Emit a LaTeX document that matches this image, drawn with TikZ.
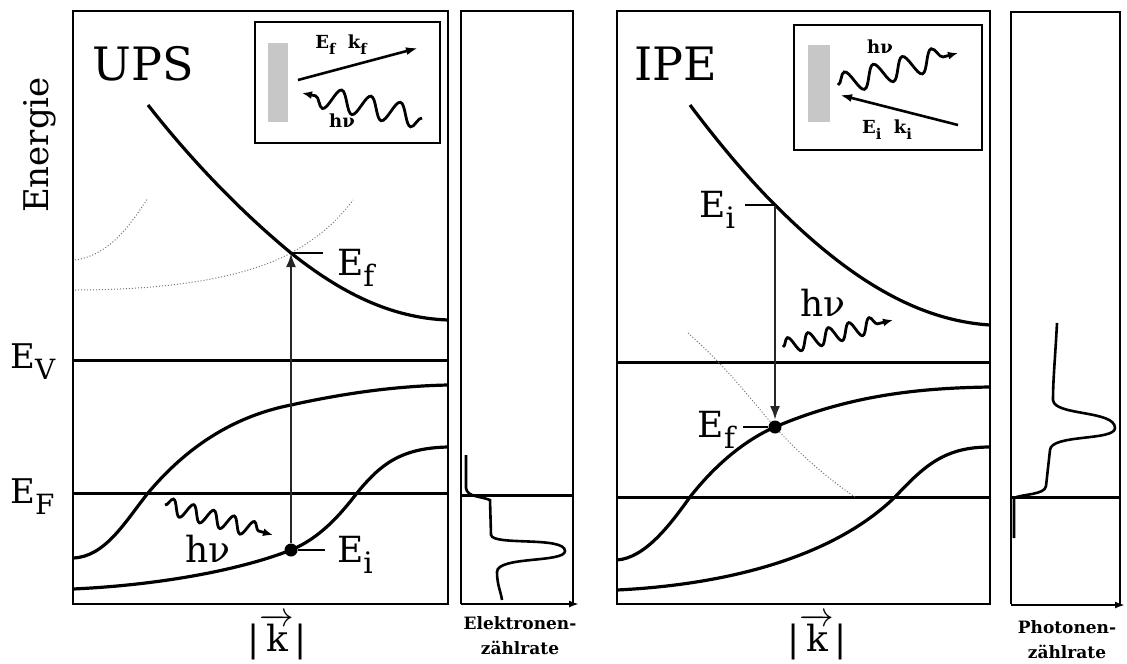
\documentclass[tikz,border=0pt]{standalone}
\usepackage{fontspec}
\setmainfont{DejaVu Serif}
\usepackage{graphicx}
\usetikzlibrary{arrows.meta,decorations.pathmorphing,positioning,calc}
\newcommand\lowidx[1]{\raisebox{-0.33em}{\scalebox{0.82}{#1}}}

\begin{document}
\begin{tikzpicture}[x=0.5pt,y=-0.5pt,
      frame/.style={line width=1pt},
      band/.style={line width=1.6pt},
      level/.style={line width=1.5pt},
      ghost/.style={line width=0.5pt, black!55, densely dotted},
      spec/.style={line width=1.3pt},
      transition/.style={line width=1.3pt, black!85, -{Latex[length=7pt,width=5pt]}},
      tick/.style={line width=0.6pt},
      axisarrow/.style={line width=1pt, -{Latex[length=5pt,width=3.5pt]}},
      photon/.style={line width=1.4pt, decorate, decoration={snake, amplitude=4pt, segment length=10.5pt, post length=6pt}, -{Latex[length=5pt,width=4pt]}},
      bigphoton/.style={photon, decoration={snake, amplitude=5.5pt, segment length=15pt, post length=6pt}},
      inarrow/.style={line width=1.3pt, -{Latex[length=6pt,width=4pt]}},
      state/.style={circle, fill=black, inner sep=0pt, minimum size=6.5pt},
      lab/.style={font=\fontsize{18}{20}\selectfont, inner sep=0pt},
      sidelab/.style={font=\fontsize{17}{20}\selectfont, inner sep=0pt},
      title/.style={font=\fontsize{23}{26}\selectfont, inner sep=0pt},
      inlab/.style={font=\bfseries\fontsize{9}{11}\selectfont, inner sep=0pt},
      countlab/.style={font=\bfseries\fontsize{8.5}{12.5}\selectfont, align=center, inner sep=0pt},
      shade/.style={fill=black!22, draw=none}
    ]
    \useasboundingbox (0,0) rectangle (1127,663);

    % UPS panel
    \draw[frame] (73,11) rectangle (448,604);
    \node[title] (upstitle) at (143,64) {UPS};
    \node[sidelab, rotate=90] (energy) at (40,145) {Energie};
    \node[sidelab, anchor=base west] (ev) at (10,368) {E\lowidx{V}};
    \node[sidelab, anchor=base west] (ef) at (10,503) {E\lowidx{F}};
    \draw[level] (73,360) -- (448,360);
    \draw[level] (73,493) -- (448,493);

    \draw[ghost] (75,260) .. controls (110,255) and (130,225) .. (148,198);
    \draw[ghost] (75,290) .. controls (180,290) and (250,275) .. (291,253) .. controls (320,237) and (340,218) .. (353,200);
    \draw[band] (148,105) .. controls (195,165) and (245,215) .. (291,253) .. controls (340,292) and (390,318) .. (448,320);
    \draw[band] (73,558) .. controls (105,557) and (125,522) .. (148,493) .. controls (180,455) and (225,418) .. (291,405) .. controls (350,392) and (400,386) .. (448,385);
    \draw[band] (73,589) .. controls (160,585) and (240,570) .. (291,550) .. controls (320,538) and (340,515) .. (357,493) .. controls (380,465) and (400,448) .. (448,447);

    \coordinate (upsEf) at (291,253);
    \node[state] (upsEi) at (291,550) {};
    \draw[transition] (upsEi) -- (upsEf);
    \node[lab, anchor=base west, outer xsep=7pt] (upsEflab) at (323,275) {E\lowidx{f}};
    \node[lab, anchor=base west, outer xsep=6pt] (upsEilab) at (325,562) {E\lowidx{i}};
    \draw[tick] (upsEf) -- (upsEf -| upsEflab.west);
    \draw[tick] (upsEi) -- (upsEi -| upsEilab.west);

    \coordinate (upsWaveA) at (165,505);
    \coordinate (upsWaveB) at (273,535);
    \draw[photon] (upsWaveA) -- (upsWaveB);
    \node[lab] (upshv) at (208,549) {hν};

    % UPS inset
    \draw[frame] (255,22) rectangle (440,143);
    \fill[shade] (268,43) rectangle (288,122);
    \coordinate (upsInA) at (298,80);
    \coordinate (upsInB) at (418,48);
    \draw[inarrow] (upsInA) -- (upsInB);
    \node[inlab] (upsInlab) at (341,45) {E\lowidx{f}\ \ k\lowidx{f}};
    \coordinate (upsInWaveA) at (422,118);
    \coordinate (upsInWaveB) at (302,93);
    \draw[bigphoton] (upsInWaveA) -- (upsInWaveB);
    \node[inlab] (upsInhv) at (342,121) {hν};

    % electron counting rate
    \draw[frame] (461,604) -- (461,11) -- (573,11) -- (573,604);
    \draw[axisarrow] (461,604) -- (579,604);
    \draw[level] (461,495) -- (573,495);
    \draw[spec] (466,455) -- (466,488) .. controls (467,497) and (480,496) .. (490,500) -- (491,535) .. controls (493,546) and (565,536) .. (565,551) .. controls (565,563) and (497,556) .. (497,572) .. controls (497,585) and (501,592) .. (502,600);
    \node[countlab] (elcount) at (520,636) {Elektronen-\\zählrate};
    \node[lab] (upsk) at (277,637) {|$\overrightarrow{\mbox{k}}$|};

    % IPE panel
    \draw[frame] (617,11) rectangle (990,604);
    \node[title] (ipetitle) at (676,64) {IPE};
    \draw[level] (617,362) -- (990,362);
    \draw[level] (617,497) -- (990,497);

    \draw[ghost] (688,333) .. controls (730,370) and (755,405) .. (775,427) .. controls (800,455) and (830,480) .. (855,497);
    \draw[band] (690,105) .. controls (720,145) and (750,180) .. (775,205) .. controls (840,270) and (910,320) .. (990,325);
    \draw[band] (617,560) .. controls (645,558) and (670,525) .. (690,497) .. controls (715,465) and (745,440) .. (775,427) .. controls (850,395) and (920,388) .. (990,387);
    \draw[band] (617,590) .. controls (720,585) and (830,560) .. (895,497) .. controls (925,465) and (945,447) .. (990,447);

    \coordinate (ipeEi) at (775,205);
    \node[state] (ipeEf) at (775,427) {};
    \draw[transition] (ipeEi) -- (ipeEf);
    \node[lab, anchor=base east, outer xsep=5pt] (ipeEilab) at (745,217) {E\lowidx{i}};
    \node[lab, anchor=base east, outer xsep=4pt] (ipeEflab) at (743,437) {E\lowidx{f}};
    \draw[tick] (ipeEi) -- (ipeEi -| ipeEilab.east);
    \draw[tick] (ipeEf) -- (ipeEf -| ipeEflab.east);

    \coordinate (ipeWaveA) at (783,347);
    \coordinate (ipeWaveB) at (893,320);
    \draw[photon] (ipeWaveA) -- (ipeWaveB);
    \node[lab] (ipehv) at (823,303) {hν};

    % IPE inset
    \draw[frame] (794,25) rectangle (982,150);
    \fill[shade] (808,45) rectangle (830,122);
    \coordinate (ipeInWaveA) at (838,85);
    \coordinate (ipeInWaveB) at (958,53);
    \draw[bigphoton] (ipeInWaveA) -- (ipeInWaveB);
    \node[inlab] (ipeInhv) at (880,47) {hν};
    \coordinate (ipeInA) at (958,125);
    \coordinate (ipeInB) at (840,95);
    \draw[inarrow] (ipeInA) -- (ipeInB);
    \node[inlab] (ipeInlab) at (887,130) {E\lowidx{i}\ \ k\lowidx{i}};

    % photon counting rate
    \draw[frame] (1011,604) -- (1011,12) -- (1120,12) -- (1120,604);
    \draw[axisarrow] (1011,605) -- (1125,605);
    \draw[level] (1011,497) -- (1120,497);
    \draw[spec] (1057,323) .. controls (1055,360) and (1053,380) .. (1053,400) .. controls (1054,416) and (1115,410) .. (1115,428) .. controls (1115,441) and (1051,434) .. (1050,450) -- (1046,486) .. controls (1045,495) and (1022,494) .. (1014,498) -- (1014,538);
    \node[countlab] (phcount) at (1067,640) {Photonen-\\zählrate};
    \node[lab] (ipek) at (817,637) {|$\overrightarrow{\mbox{k}}$|};
  \end{tikzpicture}
\end{document}
